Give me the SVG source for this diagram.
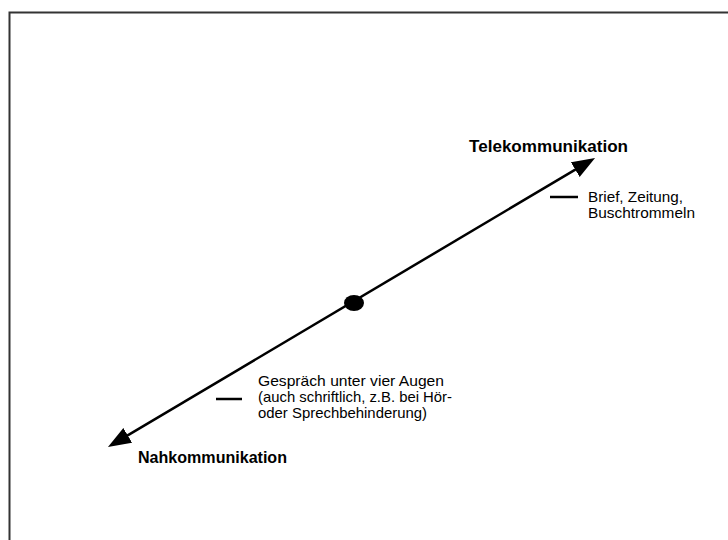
<svg xmlns="http://www.w3.org/2000/svg" width="728" height="540" viewBox="0 0 728 540">
<style>
.b{font-family:"Liberation Sans",Arial,sans-serif;font-weight:bold;fill:#000}
.r{font-family:"Liberation Sans",Arial,sans-serif;fill:#000}
.dash{stroke:#000;stroke-width:2.5}
</style>
<defs>
<marker id="ah" markerUnits="userSpaceOnUse" markerWidth="24" markerHeight="18" refX="2" refY="9" orient="auto-start-reverse">
<path d="M0,0.5 L23,9 L0,17.5 z" fill="#000"/>
</marker>
</defs>
<rect width="728" height="540" fill="#fff"/>
<path d="M9.5,542 V12.5 H730" fill="none" stroke="#333" stroke-width="2"/>
<g id="connectors">
<line x1="126" y1="436.4" x2="577" y2="168.6" stroke="#000" stroke-width="2.5" marker-start="url(#ah)" marker-end="url(#ah)"/>
</g>
<g id="center">
<ellipse cx="354" cy="303" rx="10" ry="8" fill="#000"/>
</g>
<g id="tele">
<text class="b" font-size="16.5" x="469" y="152" textLength="159" lengthAdjust="spacingAndGlyphs">Telekommunikation</text>
</g>
<g id="nah">
<text class="b" font-size="16.5" x="138" y="463" textLength="149" lengthAdjust="spacingAndGlyphs">Nahkommunikation</text>
</g>
<g id="tele-example">
<line class="dash" x1="550" y1="197" x2="578" y2="197"/>
<text class="r" font-size="15" x="588" y="202" textLength="95" lengthAdjust="spacingAndGlyphs">Brief, Zeitung,</text>
<text class="r" font-size="15" x="588" y="218" textLength="107" lengthAdjust="spacingAndGlyphs">Buschtrommeln</text>
</g>
<g id="nah-example">
<line class="dash" x1="216" y1="399" x2="242" y2="399"/>
<text class="r" font-size="15" x="258" y="386" textLength="186" lengthAdjust="spacingAndGlyphs">Gespräch unter vier Augen</text>
<text class="r" font-size="15" x="258" y="402" textLength="194" lengthAdjust="spacingAndGlyphs">(auch schriftlich, z.B. bei Hör-</text>
<text class="r" font-size="15" x="258" y="418" textLength="169" lengthAdjust="spacingAndGlyphs">oder Sprechbehinderung)</text>
</g>
</svg>
